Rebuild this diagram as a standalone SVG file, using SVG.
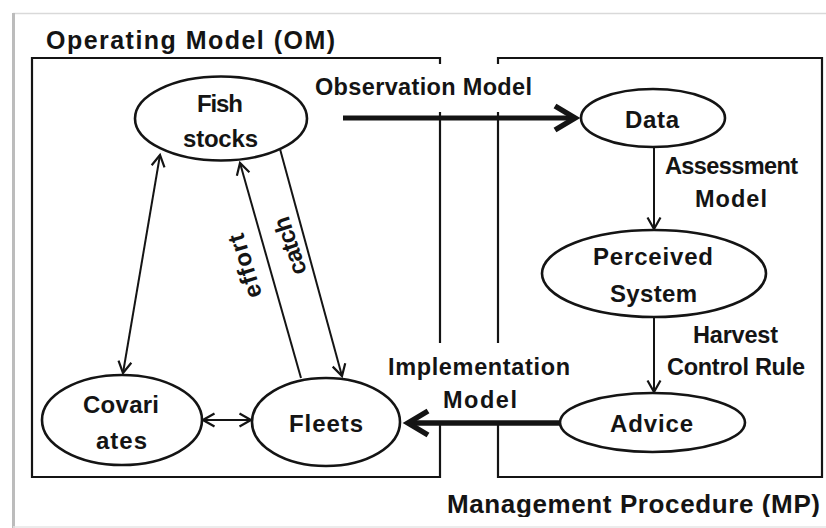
<svg xmlns="http://www.w3.org/2000/svg" width="826" height="528" viewBox="0 0 826 528">
  <style>
    text { font-family: "Liberation Sans", Arial, sans-serif; font-weight: bold; fill: #141414; }
    .node { font-size: 24px; text-anchor: middle; }
    .lbl { font-size: 23.5px; }
    .ttl { font-size: 25px; }
    .ell { fill: #ffffff; stroke: #141414; stroke-width: 2.6; }
    .box { fill: none; stroke: #141414; stroke-width: 2.2; }
    .thin { fill: none; stroke: #141414; stroke-width: 2; }
    .thick { fill: none; stroke: #141414; stroke-width: 5; }
  </style>
  <defs>
    <marker id="ah" markerUnits="userSpaceOnUse" viewBox="0 0 16 16" refX="13.5" refY="8" markerWidth="16" markerHeight="16" orient="auto-start-reverse">
      <path d="M2,1.5 L13.5,8 L2,14.5" fill="none" stroke="#141414" stroke-width="2.2" stroke-linejoin="miter"/>
    </marker>
    <marker id="ahb" markerUnits="userSpaceOnUse" viewBox="0 0 32 32" refX="23" refY="16" markerWidth="32" markerHeight="32" orient="auto">
      <path d="M3,4 L23,16 L3,28" fill="none" stroke="#141414" stroke-width="5.5" stroke-linejoin="miter" stroke-miterlimit="10"/>
    </marker>
    <clipPath id="clipBottom">
      <rect x="0" y="0" width="826" height="517"/>
    </clipPath>
  </defs>

  <rect x="0" y="0" width="826" height="528" fill="#ffffff"/>

  <!-- picture frame / shadow -->
  <g id="frame">
    <line x1="13" y1="13.5" x2="826" y2="13.5" stroke="#d9d9d9" stroke-width="1.5"/>
    <line x1="13.5" y1="13" x2="13.5" y2="528" stroke="#bcbcbc" stroke-width="3"/>
    <line x1="13" y1="527" x2="826" y2="527" stroke="#e6e6e6" stroke-width="1.5"/>
  </g>

  <!-- boxes -->
  <g id="om-box">
    <path class="box" d="M440,64 V58 H32 V477 H440 V423"/>
    <path class="box" d="M440,112 V343"/>
    <text class="ttl" x="46" y="49" textLength="289" lengthAdjust="spacing">Operating Model (OM)</text>
  </g>
  <g id="mp-box">
    <path class="box" d="M498,64 V58 H822 V477 H498 V423"/>
    <path class="box" d="M498,112 V343"/>
    <text class="ttl" x="447" y="513" textLength="373" lengthAdjust="spacing" clip-path="url(#clipBottom)" style="font-size:26px">Management Procedure (MP)</text>
  </g>

  <!-- connectors -->
  <g id="connectors">
    <line class="thin" x1="160" y1="155" x2="123" y2="373" marker-start="url(#ah)" marker-end="url(#ah)"/>
    <line class="thin" x1="301" y1="378" x2="240" y2="163" marker-end="url(#ah)"/>
    <line class="thin" x1="280" y1="149" x2="342" y2="376" marker-end="url(#ah)"/>
    <line class="thin" x1="203" y1="420" x2="251" y2="420" marker-start="url(#ah)" marker-end="url(#ah)"/>
    <line class="thin" x1="654" y1="147" x2="654" y2="229" marker-end="url(#ah)"/>
    <line class="thin" x1="654" y1="317" x2="654" y2="392" marker-end="url(#ah)"/>
    <line class="thick" x1="343" y1="118" x2="575" y2="118" marker-end="url(#ahb)"/>
    <line class="thick" x1="560" y1="423" x2="408" y2="423" marker-end="url(#ahb)" style="stroke-width:5.5"/>

    <text class="lbl" x="315" y="95" textLength="217" lengthAdjust="spacing">Observation Model</text>
    <text class="lbl" x="665" y="174" textLength="133" lengthAdjust="spacing">Assessment</text>
    <text class="lbl" x="695" y="207" textLength="72" lengthAdjust="spacing">Model</text>
    <text class="lbl" x="693" y="343" textLength="85" lengthAdjust="spacing">Harvest</text>
    <text class="lbl" x="667" y="375" textLength="138" lengthAdjust="spacing">Control Rule</text>
    <text class="lbl" x="388" y="375" textLength="182" lengthAdjust="spacing">Implementation</text>
    <text class="lbl" x="443" y="408" textLength="74" lengthAdjust="spacing">Model</text>
    <text class="node" transform="translate(245,266) rotate(-107)" x="0" y="8" textLength="66" lengthAdjust="spacing">effort</text>
    <text class="node" transform="translate(290,246) rotate(-108)" x="0" y="8" textLength="60" lengthAdjust="spacing">catch</text>
  </g>

  <!-- nodes -->
  <g id="fish-stocks">
    <ellipse class="ell" cx="221" cy="118.5" rx="86" ry="42"/>
    <text class="node" x="220" y="111.5" textLength="46" lengthAdjust="spacing">Fish</text>
    <text class="node" x="220.5" y="147" textLength="75" lengthAdjust="spacing">stocks</text>
  </g>
  <g id="data">
    <ellipse class="ell" cx="653" cy="118" rx="72" ry="29"/>
    <text class="node" x="652" y="128" textLength="54" lengthAdjust="spacing">Data</text>
  </g>
  <g id="perceived-system">
    <ellipse class="ell" cx="654" cy="273.5" rx="112" ry="43.5"/>
    <text class="node" x="653" y="265" textLength="120" lengthAdjust="spacing">Perceived</text>
    <text class="node" x="653.5" y="302" textLength="87" lengthAdjust="spacing">System</text>
  </g>
  <g id="advice">
    <ellipse class="ell" cx="652.5" cy="422.5" rx="92.5" ry="29.5"/>
    <text class="node" x="651.5" y="432" textLength="83" lengthAdjust="spacing">Advice</text>
  </g>
  <g id="covariates">
    <ellipse class="ell" cx="122" cy="420" rx="80" ry="45"/>
    <text class="node" x="121" y="413" textLength="76" lengthAdjust="spacing">Covari</text>
    <text class="node" x="121.5" y="449" textLength="51" lengthAdjust="spacing">ates</text>
  </g>
  <g id="fleets">
    <ellipse class="ell" cx="326" cy="422" rx="74" ry="44"/>
    <text class="node" x="326" y="432" textLength="74" lengthAdjust="spacing">Fleets</text>
  </g>
</svg>
